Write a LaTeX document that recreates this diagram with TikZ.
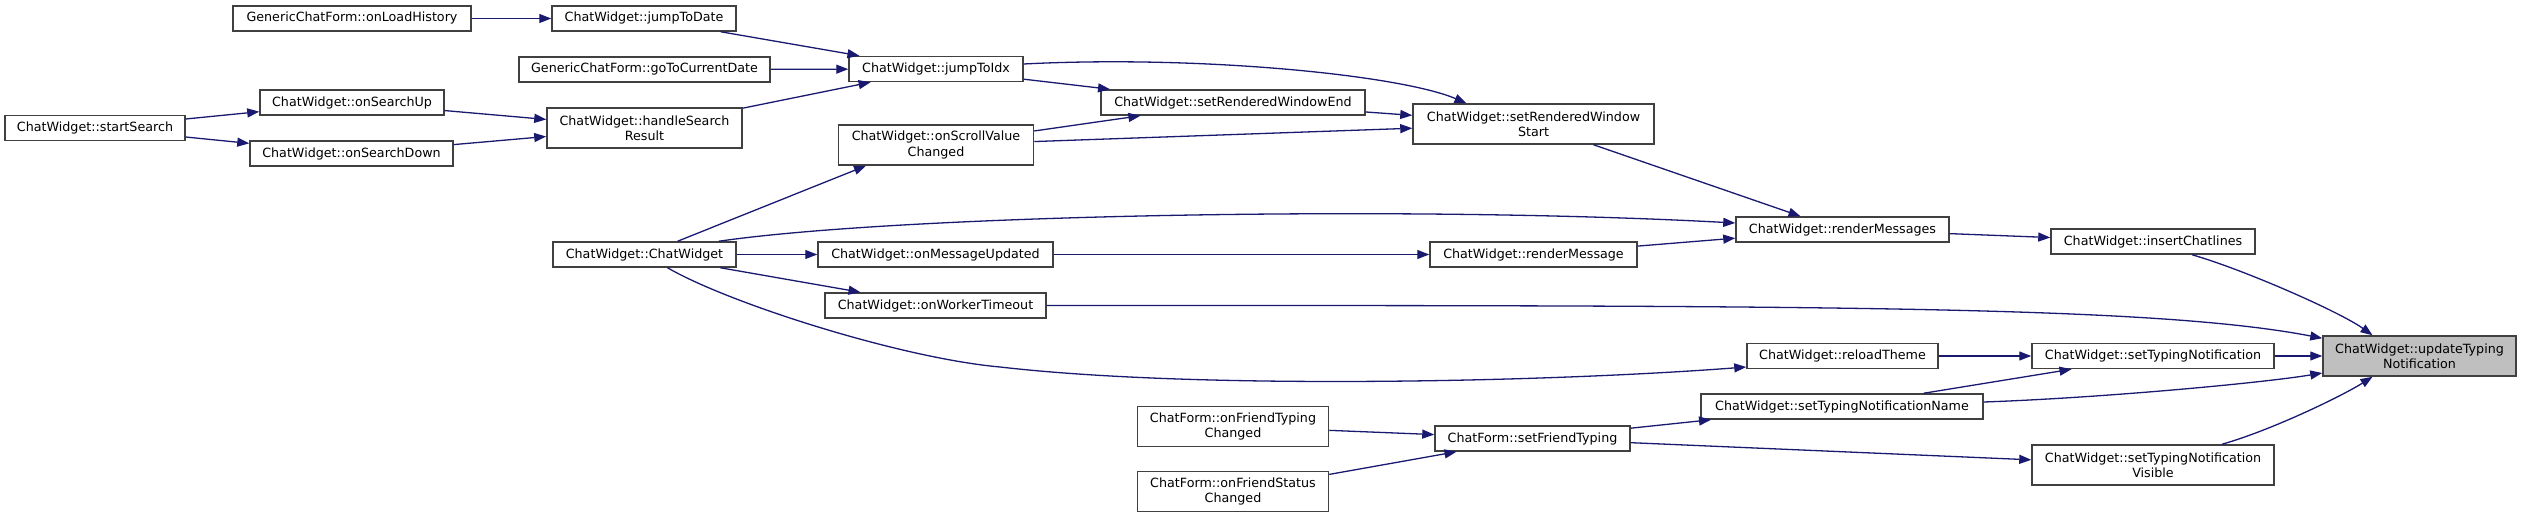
\documentclass[tikz,border=0pt]{standalone}
\usepackage{fontspec}
\newfontfamily\dgfont{DejaVu Sans}
\usetikzlibrary{arrows.meta}
\definecolor{edgeblue}{HTML}{191970}
\definecolor{boxline}{HTML}{404040}
\definecolor{selfill}{HTML}{BFBFBF}

\begin{document}
\begin{tikzpicture}[x=1pt, y=-1pt,
  fn/.style={draw=boxline, fill=white, line width=1.5pt, inner sep=0pt, minimum height=25pt, align=center, font=\dgfont\fontsize{12.7}{15.3}\selectfont},
  fntwo/.style={fn, minimum height=40pt},
  call/.style={draw=edgeblue, line width=1.3pt, -{Triangle[length=12pt,width=9pt]}}]
% Caller graph of ChatWidget::updateTypingNotification (pixel coordinates, y down)
\useasboundingbox (0,0) rectangle (2521,518);

% Column 0/1
\node (startsearch) at (95,128) [fn, minimum width=180pt] {ChatWidget::startSearch};
\node (loadhist) at (352,18.5) [fn, minimum width=238pt] {GenericChatForm::onLoadHistory};
\node (searchup) at (352,102.5) [fn, minimum width=184pt] {ChatWidget::onSearchUp};
\node (searchdown) at (351.5,153.5) [fn, minimum width=203pt] {ChatWidget::onSearchDown};

% Column 2
\node (jumpdate) at (644,18.5) [fn, minimum width=184pt] {ChatWidget::jumpToDate};
\node (gotodate) at (644.5,69.5) [fn, minimum width=251pt] {GenericChatForm::goToCurrentDate};
\node (handlesearch) at (644.5,128) [fntwo, minimum width=195pt] {ChatWidget::handleSearch\\Result};
\node (ctor) at (644.5,254.5) [fn, minimum width=183pt] {ChatWidget::ChatWidget};

% Column 3
\node (jumpidx) at (936,69) [fn, minimum width=174pt] {ChatWidget::jumpToIdx};
\node (scroll) at (936,145) [fntwo, minimum width=195pt] {ChatWidget::onScrollValue\\Changed};
\node (msgupd) at (935.5,254.5) [fn, minimum width=235pt] {ChatWidget::onMessageUpdated};
\node (worker) at (935.5,305.5) [fn, minimum width=221pt] {ChatWidget::onWorkerTimeout};

% Column 4
\node (setend) at (1233,102.5) [fn, minimum width=264pt] {ChatWidget::setRenderedWindowEnd};
\node (friendtyping) at (1233,426.5) [fntwo, minimum width=191pt] {ChatForm::onFriendTyping\\Changed};
\node (friendstatus) at (1233,491.5) [fntwo, minimum width=191pt] {ChatForm::onFriendStatus\\Changed};

% Column 5
\node (setstart) at (1533.5,124) [fntwo, minimum width=241pt] {ChatWidget::setRenderedWindow\\Start};
\node (rendermsg) at (1533.5,254.5) [fn, minimum width=207pt] {ChatWidget::renderMessage};
\node (setfriend) at (1532.5,438.5) [fn, minimum width=195pt] {ChatForm::setFriendTyping};

% Column 6
\node (rendermsgs) at (1842.5,229.5) [fn, minimum width=213pt] {ChatWidget::renderMessages};
\node (reload) at (1842.5,356) [fn, minimum width=191pt] {ChatWidget::reloadTheme};
\node (typingname) at (1842,406.5) [fn, minimum width=282pt] {ChatWidget::setTypingNotificationName};

% Column 7
\node (insert) at (2153,241.5) [fn, minimum width=204pt] {ChatWidget::insertChatlines};
\node (settyping) at (2153,356) [fn, minimum width=242pt] {ChatWidget::setTypingNotification};
\node (typingvis) at (2153,465) [fntwo, minimum width=242pt] {ChatWidget::setTypingNotification\\Visible};

% Column 8
\node (update) at (2419.5,356) [fntwo, fill=selfill, minimum width=193pt] {ChatWidget::updateTyping\\Notification};

% Calls (left to right)
\draw[call] (startsearch) -- (searchup);
\draw[call] (startsearch) -- (searchdown);
\draw[call] (searchup) -- (handlesearch);
\draw[call] (searchdown) -- (handlesearch);
\draw[call] (loadhist) -- (jumpdate);
\draw[call] (jumpdate) -- (jumpidx);
\draw[call] (gotodate) -- (jumpidx);
\draw[call] (handlesearch) -- (jumpidx);
\draw[call] (jumpidx) -- ([xshift=-123pt]setend.north);
\draw[call] ([yshift=5pt]jumpidx.east) .. controls (1200,55) and (1400,75) .. ([xshift=-67pt]setstart.north);
\draw[call] (scroll) -- (setend);
\draw[call] (scroll) -- (setstart);
\draw[call] (setend) -- (setstart);
\draw[call] (ctor) -- ([xshift=-70pt]scroll.south);
\draw[call] (ctor) -- (msgupd);
\draw[call] (ctor) -- ([xshift=-75pt]worker.north);
\draw[call] ([xshift=-18pt]ctor.north east) .. controls (900,215) and (1400,205) .. ([yshift=6.5pt]rendermsgs.west);
\draw[call] ([xshift=23pt]ctor.south) .. controls (728,303) and (900,358) .. (1000,367)
  .. controls (1200,390) and (1550,382) .. ([yshift=-11pt]reload.west);
\draw[call] (msgupd) -- (rendermsg);
\draw[call] (setstart) -- ([xshift=-42pt]rendermsgs.north);
\draw[call] (rendermsg) -- (rendermsgs);
\draw[call] (rendermsgs) -- (insert);
\draw[call] ([xshift=39pt]insert.south) .. controls (2245,270) and (2340,312) .. ([xshift=-47pt]update.north);
\draw[call] (worker.east) .. controls (1800,305.5) and (2150,305) .. ([yshift=-3pt]update.north west);
\draw[call] (reload) -- (settyping);
\draw[call] (settyping) -- (update);
\draw[call] (typingname) -- (settyping);
\draw[call] ([yshift=4.5pt]typingname.east) .. controls (2100,398) and (2262,383) .. ([yshift=-17pt]update.west);
\draw[call] ([xshift=69pt]typingvis.north) .. controls (2272,430) and (2342,396) .. ([xshift=-47pt]update.south);
\draw[call] (friendtyping) -- (setfriend);
\draw[call] (friendstatus) -- ([xshift=-76pt]setfriend.south);
\draw[call] (setfriend) -- ([xshift=-131pt]typingname.south);
\draw[call] (setfriend) -- (typingvis);
\end{tikzpicture}
\end{document}
